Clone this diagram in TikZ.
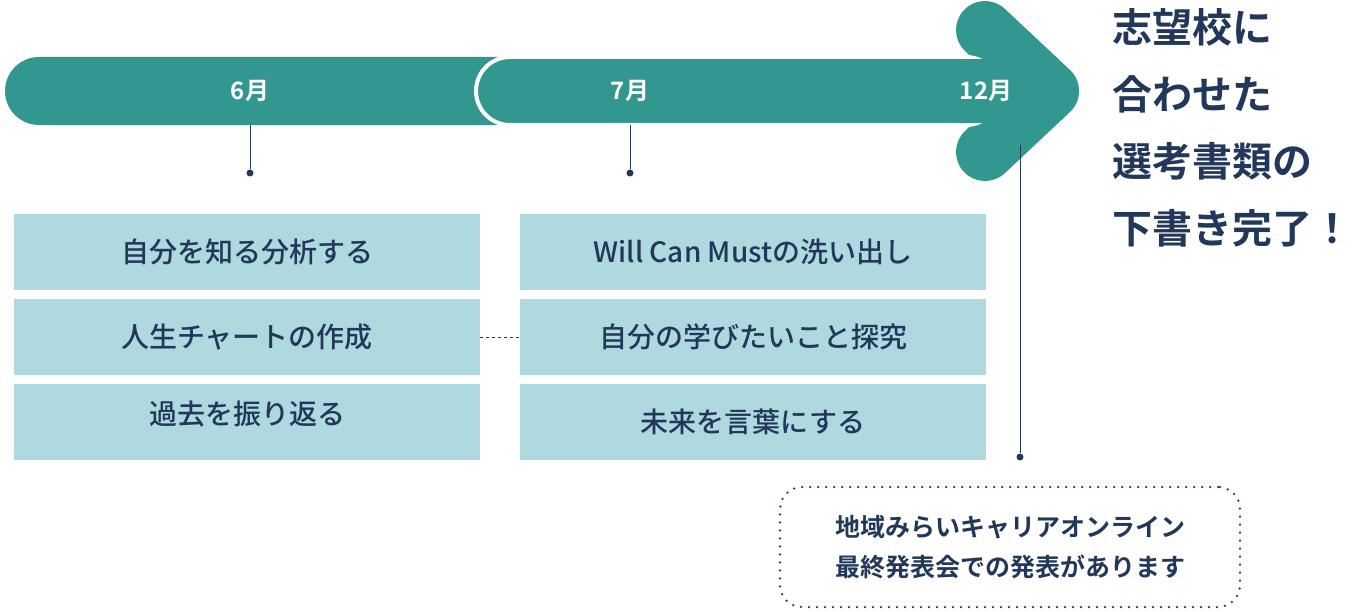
\documentclass[tikz,border=0pt]{standalone}
\usepackage{fontspec}
\setmainfont{Noto Sans CJK JP}[BoldFont={* Bold}]
\newfontfamily\jpb{Noto Sans CJK JP Bold}
\newfontfamily\jpm{Noto Sans CJK JP Medium}
\begin{document}
\begin{tikzpicture}[x=1pt,y=-1pt]
\definecolor{teal1}{HTML}{31978F}
\definecolor{lblue}{HTML}{AED9DE}
\definecolor{navy}{HTML}{22385A}
\tikzset{
 box/.style={fill=lblue,minimum width=466pt,minimum height=76pt,inner sep=0pt,font=\jpm\fontsize{28}{30}\selectfont,text=navy},
 mon/.style={text=white,font=\jpb\fontsize{24}{26}\selectfont},
 lnk/.style={navy,line width=1pt},
 dotend/.style={circle,fill=navy,inner sep=0pt,minimum size=7pt}
}
\useasboundingbox (0,0) rectangle (1354,612);
% arrow head
\draw[teal1,line width=58pt,line cap=round,line join=round] (985,30) -- (1050,91) -- (985,152);
% bars
\fill[teal1,rounded corners=34pt] (5,57) rectangle (560,125);
\fill[teal1] (960,57) rectangle (1030,125);
\draw[white,line width=4pt,fill=teal1,rounded corners=34pt] (476,57) -- (1000,57) -- (1000,125) -- (476,125) -- cycle;
\fill[teal1] (960,59) rectangle (1030,123);
\node[mon] (m6) at (250,91) {6月};
\node[mon] (m7) at (630,91) {7月};
\node[mon] (m12) at (986,91) {12月};
\node[dotend] (d6) at (250,173) {};
\node[dotend] (d7) at (630,173) {};
\node[dotend] (d12) at (1020,457) {};
\coordinate (c6) at (250,125);
\coordinate (c7) at (630,125);
\coordinate (c12) at (1020,145);
\draw[lnk] (c6) -- (d6);
\draw[lnk] (c7) -- (d7);
\draw[lnk] (c12) -- (d12);
% boxes
\node[box] (l1) at (247,252) {自分を知る分析する};
\node[box] (l2) at (247,337) {人生チャートの作成};
\node[box,text depth=18pt] (l3) at (247,422) {過去を振り返る};
\node[box] (r1) at (753,252) {Will Can Mustの洗い出し};
\node[box] (r2) at (753,337) {自分の学びたいこと探究};
\node[box] (r3) at (753,422) {未来を言葉にする};
\draw[navy,dashed,line width=0.8pt] (l2.east) -- (r2.west);
% goal text
\node[anchor=north west,text=navy,font=\jpb\fontsize{40}{67}\selectfont,align=left,inner sep=0pt] (goal) at (1112,8) {志望校に\\合わせた\\選考書類の\\下書き完了！};
% event box
\node[draw=navy,line width=2.5pt,line cap=round,dash pattern=on 0pt off 8pt,rounded corners=22pt,minimum width=460pt,minimum height=120pt,text=navy,font=\jpb\fontsize{25}{40}\selectfont,align=center] (ev) at (1010,547) {地域みらいキャリアオンライン\\最終発表会での発表があります};
\end{tikzpicture}
\end{document}
